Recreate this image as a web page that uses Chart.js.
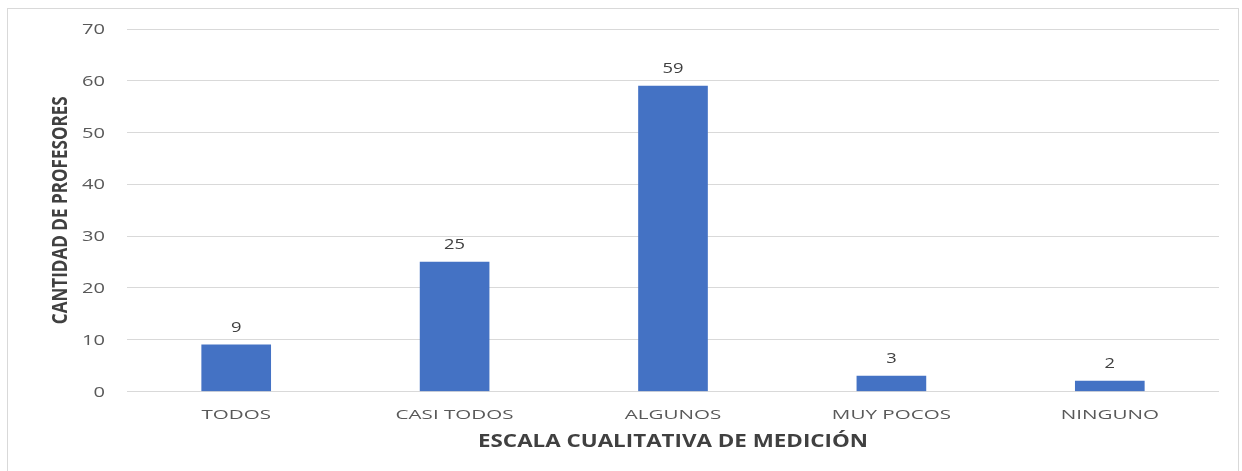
<!DOCTYPE html>
<html>
<head>
<meta charset="utf-8">
<script src="https://cdn.jsdelivr.net/npm/chart.js@4.4.1/dist/chart.umd.min.js"></script>
<style>
html,body{margin:0;padding:0;background:#fff;}
#wrap{width:1242px;height:471px;position:relative;}
</style>
</head>
<body>
<div id="wrap"><canvas id="c" width="1242" height="471"></canvas></div>
<script>
const categories = ["TODOS", "CASI TODOS", "ALGUNOS", "MUY POCOS", "NINGUNO"];
const values = [9, 25, 59, 3, 2];
const yTicks = [0, 10, 20, 30, 40, 50, 60, 70];
const xTitle = "ESCALA CUALITATIVA DE MEDICIÓN";
const yTitle = "CANTIDAD DE PROFESORES";

function stretchedText(ctx, text, x, y, font, color, sx, align) {
  ctx.save();
  ctx.font = font;
  ctx.fillStyle = color;
  ctx.textAlign = align;
  ctx.textBaseline = 'alphabetic';
  ctx.translate(x, y);
  ctx.scale(sx, 1);
  ctx.fillText(text, 0, 0);
  ctx.restore();
}
function widthOf(ctx, text, font) {
  ctx.save(); ctx.font = font; const w = ctx.measureText(text).width; ctx.restore(); return w;
}

const frame = {
  id: 'frame',
  beforeDraw(chart) {
    const ctx = chart.ctx;
    ctx.save();
    ctx.fillStyle = '#fff';
    ctx.fillRect(0, 0, chart.width, chart.height);
    ctx.strokeStyle = '#d9d9d9';
    ctx.lineWidth = 1;
    ctx.strokeRect(7.5, 8.5, 1231, 480);
    ctx.restore();
  }
};
const texts = {
  id: 'texts',
  afterDraw(chart) {
    const ctx = chart.ctx;
    const xs = chart.scales.x, ys = chart.scales.y;
    // y tick labels
    const yf = '14px "Open Sans"';
    const ysx = 23 / widthOf(ctx, '70', yf);
    yTicks.forEach(v => {
      stretchedText(ctx, String(v), 105, ys.getPixelForValue(v) + 5, yf, '#595959', ysx, 'right');
    });
    // x tick labels
    const xf = '13px "Open Sans"';
    const xsx = 118 / widthOf(ctx, 'CASI TODOS', xf);
    categories.forEach((c, i) => {
      stretchedText(ctx, c, xs.getPixelForValue(i), 419, xf, '#595959', xsx, 'center');
    });
    // x title
    const tf = 'bold 17px "Open Sans"';
    const tsx = 390 / widthOf(ctx, xTitle, tf);
    stretchedText(ctx, xTitle, (xs.left + xs.right) / 2, 447, tf, '#404040', tsx, 'center');
    // y title
    const yt = 'bold 16px "Open Sans"';
    const lsx = 228 / widthOf(ctx, yTitle, yt);
    ctx.save();
    ctx.font = yt;
    ctx.fillStyle = '#404040';
    ctx.textAlign = 'center';
    ctx.textBaseline = 'middle';
    ctx.translate(61, (ys.top + ys.bottom) / 2);
    ctx.rotate(-Math.PI / 2);
    ctx.scale(lsx, 1.35);
    ctx.fillText(yTitle, 0, 0);
    ctx.restore();
    // data labels
    const meta = chart.getDatasetMeta(0);
    const df = '14px "Open Sans"';
    const dsx = 21 / widthOf(ctx, '59', df);
    meta.data.forEach((bar, i) => {
      stretchedText(ctx, String(values[i]), bar.x, bar.y - 13, df, '#404040', dsx, 'center');
    });
  }
};

new Chart(document.getElementById('c'), {
  type: 'bar',
  data: {
    labels: categories,
    datasets: [{ data: values, backgroundColor: '#4472C4', barThickness: 69 }]
  },
  options: {
    responsive: false,
    animation: false,
    layout: { padding: { left: 0, top: 29, right: 23, bottom: 0 } },
    plugins: { legend: { display: false }, tooltip: { enabled: false } },
    scales: {
      x: {
        grid: { display: false },
        border: { display: false },
        ticks: { display: false },
        afterFit(s) { s.height = 471 - 391.5; }
      },
      y: {
        min: 0, max: 70,
        afterBuildTicks(s) { s.ticks = yTicks.map(v => ({ value: v })); },
        grid: { color: '#d9d9d9', drawTicks: false },
        border: { display: false },
        ticks: { display: false },
        afterFit(s) { s.width = 127; }
      }
    }
  },
  plugins: [frame, texts]
});
</script>
</body>
</html>
